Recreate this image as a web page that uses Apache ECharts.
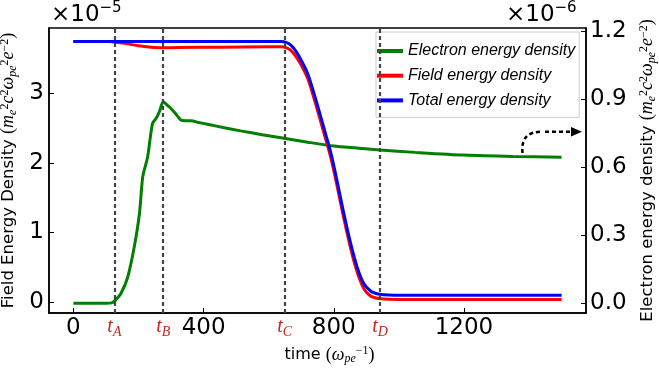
<!DOCTYPE html>
<html>
<head>
<meta charset="utf-8">
<title>Energy density vs time</title>
<script src="https://cdn.jsdelivr.net/npm/echarts@6/dist/echarts.min.js"></script>
<style>
  html, body { margin: 0; padding: 0; background: #fff; }
  #chart { width: 659px; height: 371px; }
</style>
</head>
<body>
<div id="chart"></div>
<script>
// tick values
const xTicks = [0, 400, 800, 1200];
const fieldTicks = [0, 1, 2, 3];                  // x 1e-5
const electronTicks = [0, 0.3, 0.6, 0.9, 1.2];    // x 1e-6

// marked instants t_A .. t_D
const eventNames = ['A', 'B', 'C', 'D'];
const eventTimes = [126, 276, 649, 942];

// electron energy density (x 1e-6), right axis
const electronTime = [0, 50, 100, 120, 130, 146, 167, 187, 203, 213, 228, 243, 254, 264, 276, 290, 300, 315, 330, 345,
  361, 385, 412, 460, 514, 580, 647, 720, 800, 870, 942, 1050, 1200, 1350, 1500];
const electronDensity = [0, 0, 0, 0.003, 0.015, 0.043, 0.116, 0.249, 0.396, 0.558, 0.646, 0.794, 0.816, 0.845, 0.89, 0.872, 0.86, 0.835, 0.809, 0.806,
  0.806, 0.798, 0.79, 0.776, 0.761, 0.744, 0.728, 0.711, 0.694, 0.685, 0.676, 0.666, 0.654, 0.648, 0.645];

// field energy density (x 1e-5), left axis
const fieldTime = [0, 110, 126, 150, 175, 200, 225, 250, 276, 320, 450, 600, 640, 655, 668, 684, 699, 719, 739, 760,
  780, 790, 801, 811, 831, 852, 872, 893, 913, 930, 944, 970, 1000, 1500];
const fieldDensity = [3.74, 3.74, 3.735, 3.72, 3.70, 3.68, 3.665, 3.655, 3.65, 3.655, 3.66, 3.665, 3.665, 3.65, 3.615, 3.525, 3.41, 3.22, 2.93, 2.59,
  2.26, 2.09, 1.87, 1.65, 1.20, 0.77, 0.43, 0.19, 0.09, 0.06, 0.05, 0.042, 0.04, 0.04];

// total energy density (x 1e-5), left axis
const totalTime = [0, 640, 655, 668, 684, 699, 719, 739, 760, 780, 790, 801, 811, 831, 852, 872, 893, 913, 930, 944,
  970, 1000, 1500];
const totalDensity = [3.74, 3.74, 3.725, 3.69, 3.6, 3.48, 3.29, 3.00, 2.66, 2.33, 2.16, 1.94, 1.72, 1.27, 0.84, 0.50, 0.26, 0.16, 0.125, 0.112,
  0.104, 0.10, 0.10];

function pairs(xs, ys) {
  return xs.map((x, i) => [x, ys[i]]);
}

const mathRich = {
  p: { fontFamily: 'Liberation Serif', fontSize: 18, lineHeight: 20, color: '#000' },
  i: { fontFamily: 'Liberation Serif', fontStyle: 'italic', fontSize: 18, lineHeight: 20, color: '#000' },
  sp: { fontFamily: 'Liberation Serif', fontSize: 12, lineHeight: 11, verticalAlign: 'top', color: '#000' },
  sb: { fontFamily: 'Liberation Serif', fontStyle: 'italic', fontSize: 12, lineHeight: 11, verticalAlign: 'bottom', color: '#000' }
};
const unitText = '{p|(}{i|m}{sb|e}{sp|2}{i|c}{sp|2}{i|ω}{sb|pe}{sp|2}{i|e}{sp|−2}{p|)}';

const tickFont = { fontFamily: 'DejaVu Sans', fontSize: 23, color: '#000' };
const titleFont = { fontFamily: 'DejaVu Sans', fontSize: 16.5, color: '#000', lineHeight: 20, rich: mathRich };
const black = { color: '#000', width: 1.5 };

const chart = echarts.init(document.getElementById('chart'));

chart.setOption({
  animation: false,
  grid: {
    left: 49, right: 73, top: 28, bottom: 58,
    containLabel: false, outerBoundsMode: 'none',
    show: true, borderColor: '#000', borderWidth: 1.5, backgroundColor: 'transparent'
  },
  legend: {
    orient: 'vertical',
    left: 376, top: 32,
    padding: [10, 4, 8, 1],
    itemWidth: 26, itemHeight: 4, itemGap: 6.7,
    icon: 'rect',
    backgroundColor: '#fff', borderColor: '#ccc', borderWidth: 1,
    textStyle: { fontFamily: 'Liberation Sans', fontStyle: 'italic', fontSize: 16, color: '#000', lineHeight: 18 },
    data: ['Electron energy density', 'Field energy density', 'Total energy density']
  },
  xAxis: {
    type: 'value', min: -75, max: 1575,
    name: 'time {p|(}{i|ω}{sb|pe}{sp|−1}{p|)}',
    nameLocation: 'middle', nameGap: 30,
    nameTextStyle: Object.assign({}, titleFont, { fontSize: 16, padding: [0, 0, 0, 24] }),
    axisLine: { onZero: false, lineStyle: black },
    axisTick: { inside: true, length: 5, customValues: xTicks, lineStyle: { color: '#000' } },
    axisLabel: Object.assign({ customValues: xTicks, margin: 4, formatter: v => String(v) }, tickFont),
    splitLine: { show: false }
  },
  yAxis: [
    {
      type: 'value', min: -0.155, max: 3.935,
      name: 'Field Energy Density ' + unitText,
      nameLocation: 'middle', nameGap: 27, nameRotate: 90,
      nameTextStyle: titleFont,
      axisLine: { show: true, onZero: false, lineStyle: black },
      axisTick: { inside: true, length: 5, customValues: fieldTicks, lineStyle: { color: '#000' } },
      axisLabel: Object.assign({ customValues: fieldTicks, margin: 5, formatter: v => String(v) }, tickFont),
      splitLine: { show: false }
    },
    {
      type: 'value', min: -0.043, max: 1.215, position: 'right',
      name: 'Electron energy density ' + unitText,
      nameLocation: 'middle', nameGap: 47, nameRotate: 90,
      nameTextStyle: titleFont,
      axisLine: { show: true, onZero: false, lineStyle: black },
      axisTick: { inside: true, length: 5, customValues: electronTicks, lineStyle: { color: '#000' } },
      axisLabel: Object.assign({ customValues: electronTicks, margin: 4, formatter: v => v.toFixed(1) }, tickFont),
      splitLine: { show: false }
    }
  ],
  series: [
    {
      name: 'Electron energy density', type: 'line', yAxisIndex: 1,
      data: pairs(electronTime, electronDensity),
      symbol: 'none', smooth: 0.25,
      lineStyle: { color: '#008000', width: 3 }, itemStyle: { color: '#008000' }
    },
    {
      name: 'Field energy density', type: 'line', yAxisIndex: 0,
      data: pairs(fieldTime, fieldDensity),
      symbol: 'none', smooth: 0.35,
      lineStyle: { color: '#ff0000', width: 3 }, itemStyle: { color: '#ff0000' }
    },
    {
      name: 'Total energy density', type: 'line', yAxisIndex: 0,
      data: pairs(totalTime, totalDensity),
      symbol: 'none', smooth: 0.35,
      lineStyle: { color: '#0000ff', width: 3 }, itemStyle: { color: '#0000ff' },
      markLine: {
        silent: true, symbol: 'none', animation: false,
        lineStyle: { color: '#444', type: [4, 3], width: 2.2 },
        emphasis: { disabled: true },
        label: {
          show: true, position: 'start', distance: 2,
          rich: {
            t: { fontFamily: 'Liberation Serif', fontStyle: 'italic', fontSize: 20, lineHeight: 24, color: '#c0281e' },
            s: { fontFamily: 'Liberation Serif', fontStyle: 'italic', fontSize: 14, lineHeight: 14, verticalAlign: 'bottom', color: '#c0281e' }
          }
        },
        data: eventTimes.map((t, i) => ({ xAxis: t, label: { formatter: '{t|t}{s|' + eventNames[i] + '}' } }))
      }
    }
  ],
  graphic: [
    {
      type: 'text', left: 51, top: 1,
      style: {
        text: '{a|×10}{b|−5}',
        rich: {
          a: { fontFamily: 'DejaVu Sans', fontSize: 23, lineHeight: 28, fill: '#000' },
          b: { fontFamily: 'DejaVu Sans', fontSize: 15, lineHeight: 15, verticalAlign: 'top', fill: '#000' }
        }
      }
    },
    {
      type: 'text', left: 506, top: 1,
      style: {
        text: '{a|×10}{b|−6}',
        rich: {
          a: { fontFamily: 'DejaVu Sans', fontSize: 23, lineHeight: 28, fill: '#000' },
          b: { fontFamily: 'DejaVu Sans', fontSize: 15, lineHeight: 15, verticalAlign: 'top', fill: '#000' }
        }
      }
    },
    {
      type: 'bezierCurve',
      shape: { x1: 522.5, y1: 153, cpx1: 521, cpy1: 138, cpx2: 528, cpy2: 131.7, x2: 542, y2: 131.7 },
      style: { stroke: '#000', lineWidth: 2.5, lineDash: [4, 3], fill: null }
    },
    {
      type: 'line',
      shape: { x1: 545, y1: 131.7, x2: 572, y2: 131.7 },
      style: { stroke: '#000', lineWidth: 2.5, lineDash: [4, 3] }
    },
    {
      type: 'polygon',
      shape: { points: [[571, 127], [582, 131.7], [571, 136.4]] },
      style: { fill: '#000' }
    }
  ]
});
</script>
</body>
</html>
